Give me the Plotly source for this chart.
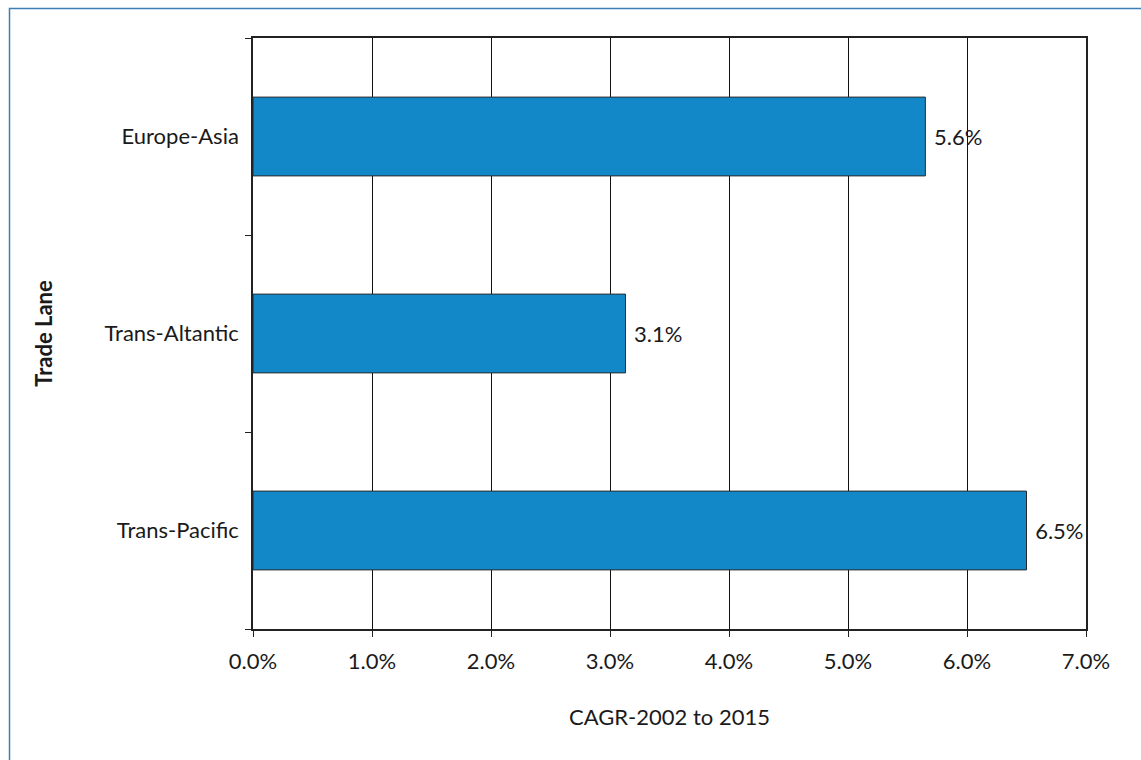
import plotly.graph_objects as go

lanes = ["Trans-Pacific", "Trans-Altantic", "Europe-Asia"]
cagr = [6.5, 3.13, 5.65]
labels = ["6.5%", "3.1%", "5.6%"]
x_ticks = [0, 1, 2, 3, 4, 5, 6, 7]
x_tick_labels = ["0.0%", "1.0%", "2.0%", "3.0%", "4.0%", "5.0%", "6.0%", "7.0%"]

W, H = 1141, 760
ml, mr, mt, mb = 253, 55, 38, 131
pw, ph = W - ml - mr, H - mt - mb
FS = 22

fig = go.Figure(go.Bar(
    y=lanes, x=cagr, orientation="h",
    marker=dict(color="#1288C9", line=dict(color="#2a2a2a", width=1)),
    text=labels, texttemplate="\u00a0%{text}", textposition="outside",
    textfont=dict(size=FS, color="#1a1a1a"),
    cliponaxis=False,
))

fig.update_layout(
    width=W, height=H,
    margin=dict(l=ml, r=mr, t=mt, b=mb),
    paper_bgcolor="white", plot_bgcolor="white",
    font=dict(family="Lato, sans-serif", size=FS, color="#1a1a1a"),
    bargap=0.6,
    showlegend=False,
    shapes=[dict(
        type="rect", xref="paper", yref="paper",
        x0=(9.5 - ml) / pw, x1=(W + 20 - ml) / pw,
        y0=-(mb + 20) / ph, y1=(H - mb - 8.5) / ph,
        line=dict(color="#3B7FB8", width=1.5), fillcolor="rgba(0,0,0,0)",
        layer="below",
    )],
)

fig.update_xaxes(
    range=[0, 7], tickvals=x_ticks, ticktext=x_tick_labels,
    showgrid=True, gridcolor="#111", gridwidth=1,
    showline=True, linecolor="#222", linewidth=1.5, mirror=True,
    ticks="outside", ticklen=6, tickcolor="#222",
    tickfont=dict(size=FS),
    ticklabelstandoff=6,
    zeroline=False,
    title=dict(text="CAGR-2002 to 2015", font=dict(size=FS), standoff=36),
)
fig.update_yaxes(
    categoryorder="array", categoryarray=lanes,
    showline=True, linecolor="#222", linewidth=1.5, mirror=True,
    ticks="outside", ticklen=6, tickcolor="#222", tickson="boundaries",
    tickfont=dict(size=FS),
    ticklabelstandoff=8,
    title=dict(text="<b>Trade Lane</b>", font=dict(size=FS), standoff=46),
)

fig.write_html("out.html")
